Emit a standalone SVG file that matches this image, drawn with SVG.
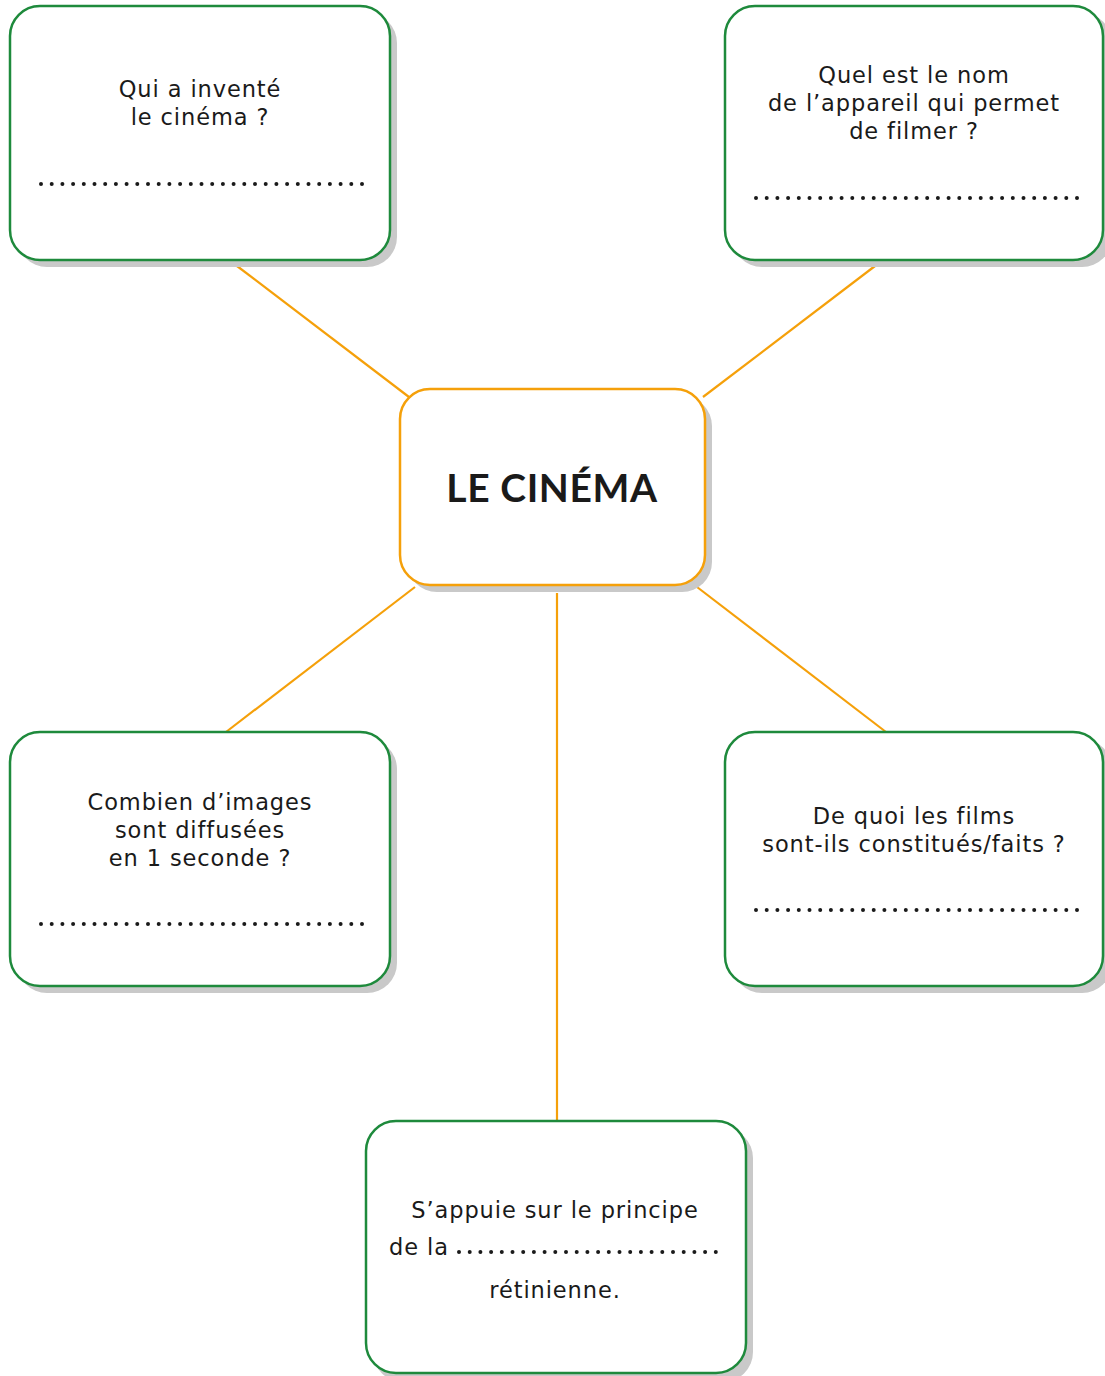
<svg xmlns="http://www.w3.org/2000/svg" width="1105" height="1376" viewBox="0 0 1105 1376">
<style>
.box{fill:#fff;stroke:#1e8a3c;stroke-width:2.5}
.ctr{fill:#fff;stroke:#f5a00a;stroke-width:2.5}
.sh{fill:#c9c9c9}
.t{font-family:"DejaVu Sans","Liberation Sans",sans-serif;font-size:22.5px;fill:#1a1a1a;text-anchor:middle;letter-spacing:0.9px}
.title{font-family:"Lato","Liberation Sans",sans-serif;font-size:39px;font-weight:bold;fill:#1a1a1a;text-anchor:middle;letter-spacing:0.6px}
.dots{stroke:#1a1a1a;stroke-width:4;stroke-linecap:round;stroke-dasharray:0 10.7;fill:none}
.con{stroke:#f5a00a;stroke-width:2.2;fill:none}
</style>
<rect width="1105" height="1376" fill="#fff"/>
<g id="connectors">
<line class="con" x1="237" y1="266" x2="409" y2="397"/>
<line class="con" x1="875" y1="266" x2="703" y2="397"/>
<line class="con" x1="415" y1="587" x2="226" y2="732"/>
<line class="con" x1="697" y1="587" x2="886" y2="732"/>
<line class="con" x1="557" y1="593" x2="557" y2="1121"/>
</g>
<g id="center">
<rect class="sh" x="407" y="396" width="305" height="196" rx="30"/>
<rect class="ctr" x="400" y="389" width="305" height="196" rx="30"/>
<text class="title" x="552" y="502">LE CINÉMA</text>
</g>
<g id="q1">
<rect class="sh" x="17" y="13" width="380" height="254" rx="30"/>
<rect class="box" x="10" y="6" width="380" height="254" rx="30"/>
<text class="t" x="200" y="97">Qui a inventé<tspan x="200" dy="28">le cinéma ?</tspan></text>
<line class="dots" x1="41" y1="184" x2="363" y2="184"/>
</g>
<g id="q2">
<rect class="sh" x="732" y="13" width="380" height="254" rx="30"/>
<rect class="box" x="725" y="6" width="378" height="254" rx="30"/>
<text class="t" x="914" y="83">Quel est le nom<tspan x="914" dy="28">de l’appareil qui permet</tspan><tspan x="914" dy="28">de filmer ?</tspan></text>
<line class="dots" x1="756" y1="198" x2="1078" y2="198"/>
</g>
<g id="q3">
<rect class="sh" x="17" y="739" width="380" height="254" rx="30"/>
<rect class="box" x="10" y="732" width="380" height="254" rx="30"/>
<text class="t" x="200" y="810">Combien d’images<tspan x="200" dy="28">sont diffusées</tspan><tspan x="200" dy="28">en 1 seconde ?</tspan></text>
<line class="dots" x1="41" y1="924" x2="363" y2="924"/>
</g>
<g id="q4">
<rect class="sh" x="732" y="739" width="380" height="254" rx="30"/>
<rect class="box" x="725" y="732" width="378" height="254" rx="30"/>
<text class="t" x="914" y="824">De quoi les films<tspan x="914" dy="28">sont-ils constitués/faits ?</tspan></text>
<line class="dots" x1="756" y1="910" x2="1078" y2="910"/>
</g>
<g id="q5">
<rect class="sh" x="373" y="1128" width="380" height="254" rx="30"/>
<rect class="box" x="366" y="1121" width="380" height="252" rx="30"/>
<text class="t" x="555" y="1218">S’appuie sur le principe</text>
<text class="t" x="389" y="1255" style="text-anchor:start">de la</text>
<line class="dots" x1="459" y1="1252" x2="719" y2="1252"/>
<text class="t" x="555" y="1298">rétinienne.</text>
</g>
</svg>
